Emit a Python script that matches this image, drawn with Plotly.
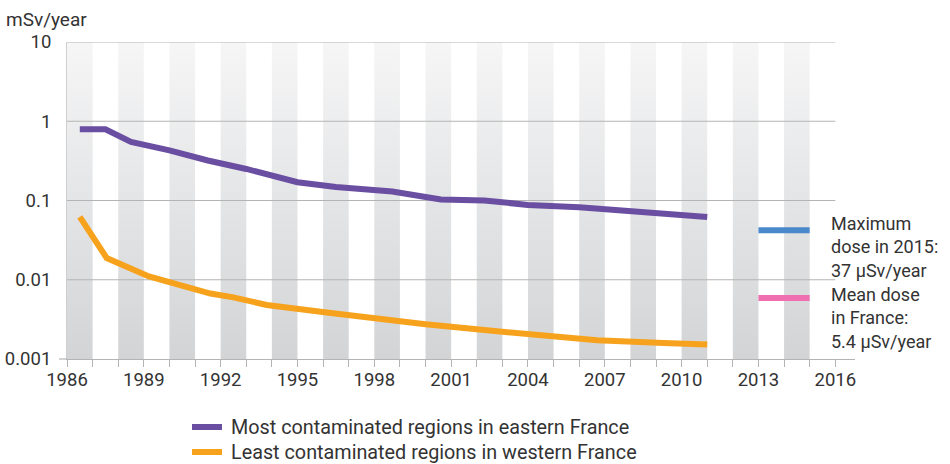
import plotly.graph_objects as go

# ---- data ----
tick_years = list(range(1986, 2017))
label_years = list(range(1986, 2017, 3))
y_ticks = [0.001, 0.01, 0.1, 1, 10]
y_tick_text = ["0.001", "0.01", "0.1", "1", "10"]

east_years = [1986.5, 1987.5, 1988.5, 1990, 1991.5, 1993, 1995, 1996.5, 1998.7,
              2000.6, 2002.3, 2004, 2006, 2008.5, 2011]
east_vals = [0.79, 0.79, 0.55, 0.43, 0.32, 0.25, 0.17, 0.148, 0.13,
             0.103, 0.100, 0.088, 0.082, 0.072, 0.062]

west_years = [1986.5, 1987.55, 1989.2, 1991.6, 1992.5, 1993.8, 1996.3, 1998.9,
              2000, 2002.1, 2004, 2006.7, 2009.3, 2011]
west_vals = [0.062, 0.0188, 0.011, 0.0067, 0.006, 0.0048, 0.0038, 0.0030,
             0.00275, 0.00235, 0.00205, 0.00172, 0.00159, 0.00152]

ref_years = [2013, 2015]
max_dose_2015 = 0.042
mean_dose_france = 0.0059

series_names = ["Most contaminated regions in eastern France",
                "Least contaminated regions in western France"]
max_dose_lines = ["Maximum", "dose in 2015:", "37 µSv/year"]
mean_dose_lines = ["Mean dose", "in France:", "5.4 µSv/year"]

# ---- style ----
PURPLE = "#6a4ea2"
ORANGE = "#f7a21d"
BLUE = "#4a88cc"
PINK = "#f06fb1"
TEXT = "#333333"
GRID = "#b4b4b4"
TICK_FONT = dict(family="Roboto", size=18.5, color=TEXT)

X0, X1 = 1986, 2016
YMIN, YMAX = 0.001, 10

FIG_W, FIG_H = 950, 464
PLOT_L, PLOT_T = 67, 42
PLOT_W, PLOT_H = 788, 317

fig = go.Figure()

# alternating gradient stripes
sx, sy = [], []
for y0 in range(X0, 2015, 2):
    sx += [y0, y0 + 1, y0 + 1, y0, y0, None]
    sy += [YMIN, YMIN, YMAX, YMAX, YMIN, None]
fig.add_trace(go.Scatter(
    x=sx, y=sy, mode="lines", fill="toself", line=dict(width=0),
    fillgradient=dict(type="vertical",
                      colorscale=[[0, "#d3d4d6"], [0.5, "#e4e5e6"], [1, "#f6f6f7"]]),
    hoverinfo="skip", showlegend=False))

# horizontal grid lines
for v in [10, 1, 0.1, 0.01]:
    fig.add_trace(go.Scatter(x=[X0, X1], y=[v, v], mode="lines",
                             line=dict(color=GRID, width=1.2),
                             hoverinfo="skip", showlegend=False))

# reference dose markers
fig.add_trace(go.Scatter(x=ref_years, y=[max_dose_2015] * 2, mode="lines",
                         line=dict(color=BLUE, width=6), showlegend=False))
fig.add_trace(go.Scatter(x=ref_years, y=[mean_dose_france] * 2, mode="lines",
                         line=dict(color=PINK, width=6), showlegend=False))

# data series
fig.add_trace(go.Scatter(x=east_years, y=east_vals, mode="lines", name=series_names[0],
                         line=dict(color=PURPLE, width=6), showlegend=False))
fig.add_trace(go.Scatter(x=west_years, y=west_vals, mode="lines", name=series_names[1],
                         line=dict(color=ORANGE, width=6), showlegend=False))


def px_y(Y):  # pixel -> paper
    return (PLOT_T + PLOT_H - Y) / PLOT_H


def px_x(X):
    return (X - PLOT_L) / PLOT_W


annos = [dict(text="mSv/year", x=px_x(4), y=px_y(20), xanchor="left", yanchor="middle",
              font=dict(family="Roboto", size=19, color=TEXT))]
for lines, Yc in [(max_dose_lines, 246.5), (mean_dose_lines, 317.5)]:
    annos.append(dict(text="<br>".join(lines), x=px_x(829), y=px_y(Yc),
                      xanchor="left", yanchor="middle", align="left",
                      font=dict(family="Roboto", size=18, color=TEXT)))

shapes = [dict(type="line", xref="paper", yref="paper", x0=-8 / PLOT_W, x1=0, y0=0, y1=0,
               line=dict(color=GRID, width=1.2))]

# custom legend
for name, color, Y in [(series_names[0], PURPLE, 427), (series_names[1], ORANGE, 452)]:
    shapes.append(dict(type="line", xref="paper", yref="paper",
                       x0=px_x(192), x1=px_x(222), y0=px_y(Y), y1=px_y(Y),
                       line=dict(color=color, width=6)))
    annos.append(dict(text=name, x=px_x(229), y=px_y(Y), xanchor="left", yanchor="middle",
                      font=dict(family="Roboto", size=19.8, color=TEXT)))

for a in annos:
    a.update(xref="paper", yref="paper", showarrow=False)

fig.update_layout(
    width=FIG_W, height=FIG_H,
    margin=dict(l=PLOT_L, r=FIG_W - PLOT_L - PLOT_W, t=PLOT_T, b=FIG_H - PLOT_T - PLOT_H,
                autoexpand=False),
    paper_bgcolor="white", plot_bgcolor="white",
    font=dict(family="Roboto", color=TEXT),
    xaxis=dict(range=[X0, 2016.77], tickvals=tick_years,
               ticktext=[str(y) if y in label_years else "" for y in tick_years],
               ticks="outside", ticklen=7, tickcolor=GRID, showline=True,
               linecolor=GRID, linewidth=1.2, showgrid=False, zeroline=False,
               tickfont=TICK_FONT, ticklabelstandoff=-3, automargin=False),
    yaxis=dict(type="log", range=[-3, 1], tickvals=y_ticks, ticktext=y_tick_text,
               showgrid=False, zeroline=False, showline=True, linecolor="#cfcfcf",
               linewidth=1, ticks="", ticklabelstandoff=11, tickfont=TICK_FONT,
               automargin=False),
    annotations=annos,
    shapes=shapes,
    showlegend=False,
)

fig.write_html("out.html", config={"displayModeBar": False},
               post_script="document.body.style.margin='0';")
